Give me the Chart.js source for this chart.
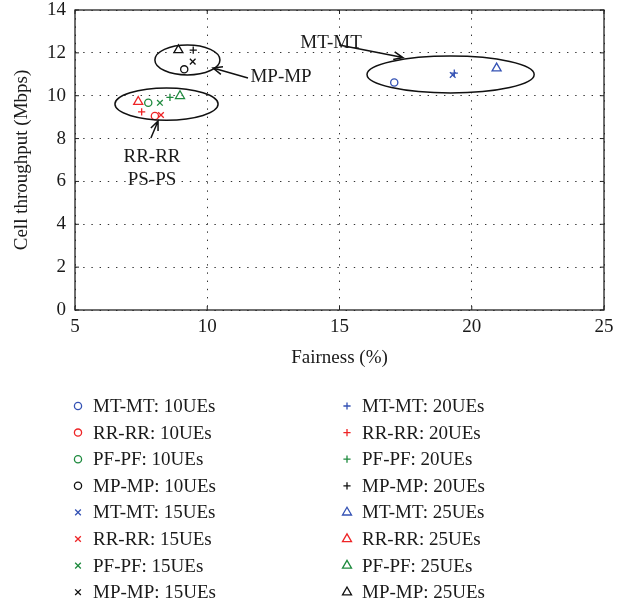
<!DOCTYPE html>
<html>
<head>
<meta charset="utf-8">
<script src="https://cdn.jsdelivr.net/npm/chart.js@4.4.0/dist/chart.umd.min.js"></script>
<style>
  html, body { margin: 0; padding: 0; background: #fff; }
</style>
</head>
<body>
<canvas id="graficoFairness" width="630" height="607"></canvas>
<script>
// categories
const schemes = ['MT-MT', 'RR-RR', 'PF-PF', 'MP-MP'];
const ueCounts = [10, 15, 20, 25];

// fairness (%) per scheme, one array per UE count
const fairness10 = [17.07, 8.02, 7.77, 9.13];
const fairness15 = [19.28, 8.25, 8.21, 9.45];
const fairness20 = [19.34, 7.52, 8.59, 9.47];
const fairness25 = [20.94, 7.39, 8.97, 8.91];

// cell throughput (Mbps)
const throughput10 = [10.62, 9.05, 9.67, 11.23];
const throughput15 = [10.97, 9.10, 9.67, 11.59];
const throughput20 = [11.05, 9.25, 9.92, 12.13];
const throughput25 = [11.28, 9.72, 9.99, 12.13];

const xTicks = [5, 10, 15, 20, 25];
const yTicks = [0, 2, 4, 6, 8, 10, 12, 14];

// annotations (data units)
const ellipseCx = [9.25, 8.46, 19.20];
const ellipseCy = [11.67, 9.61, 10.99];
const ellipseRx = [1.23, 1.95, 3.16];
const ellipseRy = [0.70, 0.75, 0.86];

const noteText = ['MT-MT', 'MP-MP', 'RR-RR', 'PS-PS'];
const noteX = [14.68, 12.79, 7.91, 7.91];
const noteY = [12.46, 10.87, 7.14, 6.07];

const arrowFromX = [14.99, 11.54, 7.87];
const arrowFromY = [12.37, 10.83, 8.03];
const arrowToX = [17.40, 10.22, 8.14];
const arrowToY = [11.78, 11.29, 8.82];

// styles
const colores = ['#3452b4', '#ee2426', '#1e8a3e', '#111111'];
const marcadores = { 10: 'circle', 15: 'crossRot', 20: 'cross', 25: 'triangle' };
const radios = { 10: 3.6, 15: 4, 20: 3.6, 25: 5.2 };
const serif = "'Liberation Serif', 'DejaVu Serif', serif";

const fx = { 10: fairness10, 15: fairness15, 20: fairness20, 25: fairness25 };
const ty = { 10: throughput10, 15: throughput15, 20: throughput20, 25: throughput25 };

const datasets = [];
ueCounts.forEach(ue => {
  schemes.forEach((s, i) => {
    datasets.push({
      label: s + ': ' + ue + 'UEs',
      data: [{ x: fx[ue][i], y: ty[ue][i] }],
      pointStyle: marcadores[ue],
      pointRadius: radios[ue],
      pointBorderWidth: 1.3,
      pointBorderColor: colores[i],
      pointBackgroundColor: 'rgba(0,0,0,0)',
      showLine: false
    });
  });
});

const extras = {
  id: 'extras',
  beforeDatasetsDraw(chart) {
    const { ctx, chartArea: a, scales: { x, y } } = chart;
    ctx.save();
    ctx.strokeStyle = '#222';
    ctx.lineWidth = 1.3;
    ctx.strokeRect(a.left, a.top, a.right - a.left, a.bottom - a.top);
    // small inner ticks
    ctx.lineWidth = 1;
    xTicks.forEach(v => {
      const px = x.getPixelForValue(v);
      ctx.beginPath();
      ctx.moveTo(px, a.bottom); ctx.lineTo(px, a.bottom - 4);
      ctx.moveTo(px, a.top); ctx.lineTo(px, a.top + 4);
      ctx.stroke();
    });
    yTicks.forEach(v => {
      const py = y.getPixelForValue(v);
      ctx.beginPath();
      ctx.moveTo(a.left, py); ctx.lineTo(a.left + 4, py);
      ctx.moveTo(a.right, py); ctx.lineTo(a.right - 4, py);
      ctx.stroke();
    });
    ctx.restore();
  },
  afterDraw(chart) {
    const { ctx, scales: { x, y } } = chart;
    ctx.save();
    ctx.strokeStyle = '#111';
    ctx.lineWidth = 1.5;
    // ellipses
    ellipseCx.forEach((cx, i) => {
      const px = x.getPixelForValue(cx), py = y.getPixelForValue(ellipseCy[i]);
      const rx = x.getPixelForValue(cx + ellipseRx[i]) - px;
      const ry = py - y.getPixelForValue(ellipseCy[i] + ellipseRy[i]);
      ctx.beginPath();
      ctx.ellipse(px, py, rx, ry, 0, 0, Math.PI * 2);
      ctx.stroke();
    });
    // arrows
    arrowFromX.forEach((x0, i) => {
      const ax = x.getPixelForValue(x0), ay = y.getPixelForValue(arrowFromY[i]);
      const bx = x.getPixelForValue(arrowToX[i]), by = y.getPixelForValue(arrowToY[i]);
      const ang = Math.atan2(by - ay, bx - ax);
      ctx.beginPath();
      ctx.moveTo(ax, ay); ctx.lineTo(bx, by);
      ctx.moveTo(bx - 10 * Math.cos(ang - 0.4), by - 10 * Math.sin(ang - 0.4));
      ctx.lineTo(bx, by);
      ctx.lineTo(bx - 10 * Math.cos(ang + 0.4), by - 10 * Math.sin(ang + 0.4));
      ctx.stroke();
    });
    // notes
    ctx.fillStyle = '#1a1a1a';
    ctx.font = '19px ' + serif;
    ctx.textAlign = 'center';
    ctx.textBaseline = 'middle';
    noteText.forEach((t, i) => {
      ctx.fillText(t, x.getPixelForValue(noteX[i]), y.getPixelForValue(noteY[i]));
    });
    // legend, two columns
    const colX = [78, 347];
    chart.data.datasets.forEach((ds, i) => {
      const col = Math.floor(i / 8), row = i % 8;
      const lx = colX[col], ly = 406 + row * 26.6;
      ctx.strokeStyle = ds.pointBorderColor;
      ctx.fillStyle = 'rgba(0,0,0,0)';
      ctx.lineWidth = 1.3;
      Chart.helpers.drawPoint(ctx, {
        pointStyle: ds.pointStyle, radius: ds.pointRadius,
        borderWidth: 1.3, rotation: 0
      }, lx, ly);
      ctx.fillStyle = '#1a1a1a';
      ctx.textAlign = 'left';
      ctx.fillText(ds.label, lx + 15, ly + 1);
    });
    ctx.restore();
  }
};

const ctx = document.getElementById('graficoFairness');

new Chart(ctx, {
  type: 'scatter',
  data: { datasets: datasets },
  options: {
    responsive: false,
    animation: false,
    layout: { padding: { left: 0, top: 10, right: 26, bottom: 237 } },
    plugins: { legend: { display: false }, tooltip: { enabled: false } },
    scales: {
      x: {
        min: 5, max: 25,
        afterBuildTicks: s => { s.ticks = xTicks.map(v => ({ value: v })); },
        afterFit: s => { s.height = 60; },
        ticks: { color: '#1a1a1a', padding: 8, font: { family: serif, size: 19, lineHeight: 1 } },
        grid: { color: '#333', lineWidth: 1, drawTicks: false },
        border: { display: false, dash: [1.4, 6.8] },
        title: { display: true, text: 'Fairness (%)', color: '#1a1a1a', padding: { top: 0, bottom: 0.5 }, font: { family: serif, size: 19 } }
      },
      y: {
        min: 0, max: 14,
        afterBuildTicks: s => { s.ticks = yTicks.map(v => ({ value: v })); },
        afterFit: s => { s.width = 75; s.paddingTop = 10; s.paddingBottom = 10; },
        ticks: { color: '#1a1a1a', padding: 9, font: { family: serif, size: 19, lineHeight: 1 } },
        grid: { color: '#333', lineWidth: 1, drawTicks: false },
        border: { display: false, dash: [1.4, 6.8] },
        title: { display: true, text: 'Cell throughput (Mbps)', color: '#1a1a1a', padding: { top: 10.5, bottom: 0 }, font: { family: serif, size: 19 } }
      }
    }
  },
  plugins: [extras]
});
</script>
</body>
</html>
